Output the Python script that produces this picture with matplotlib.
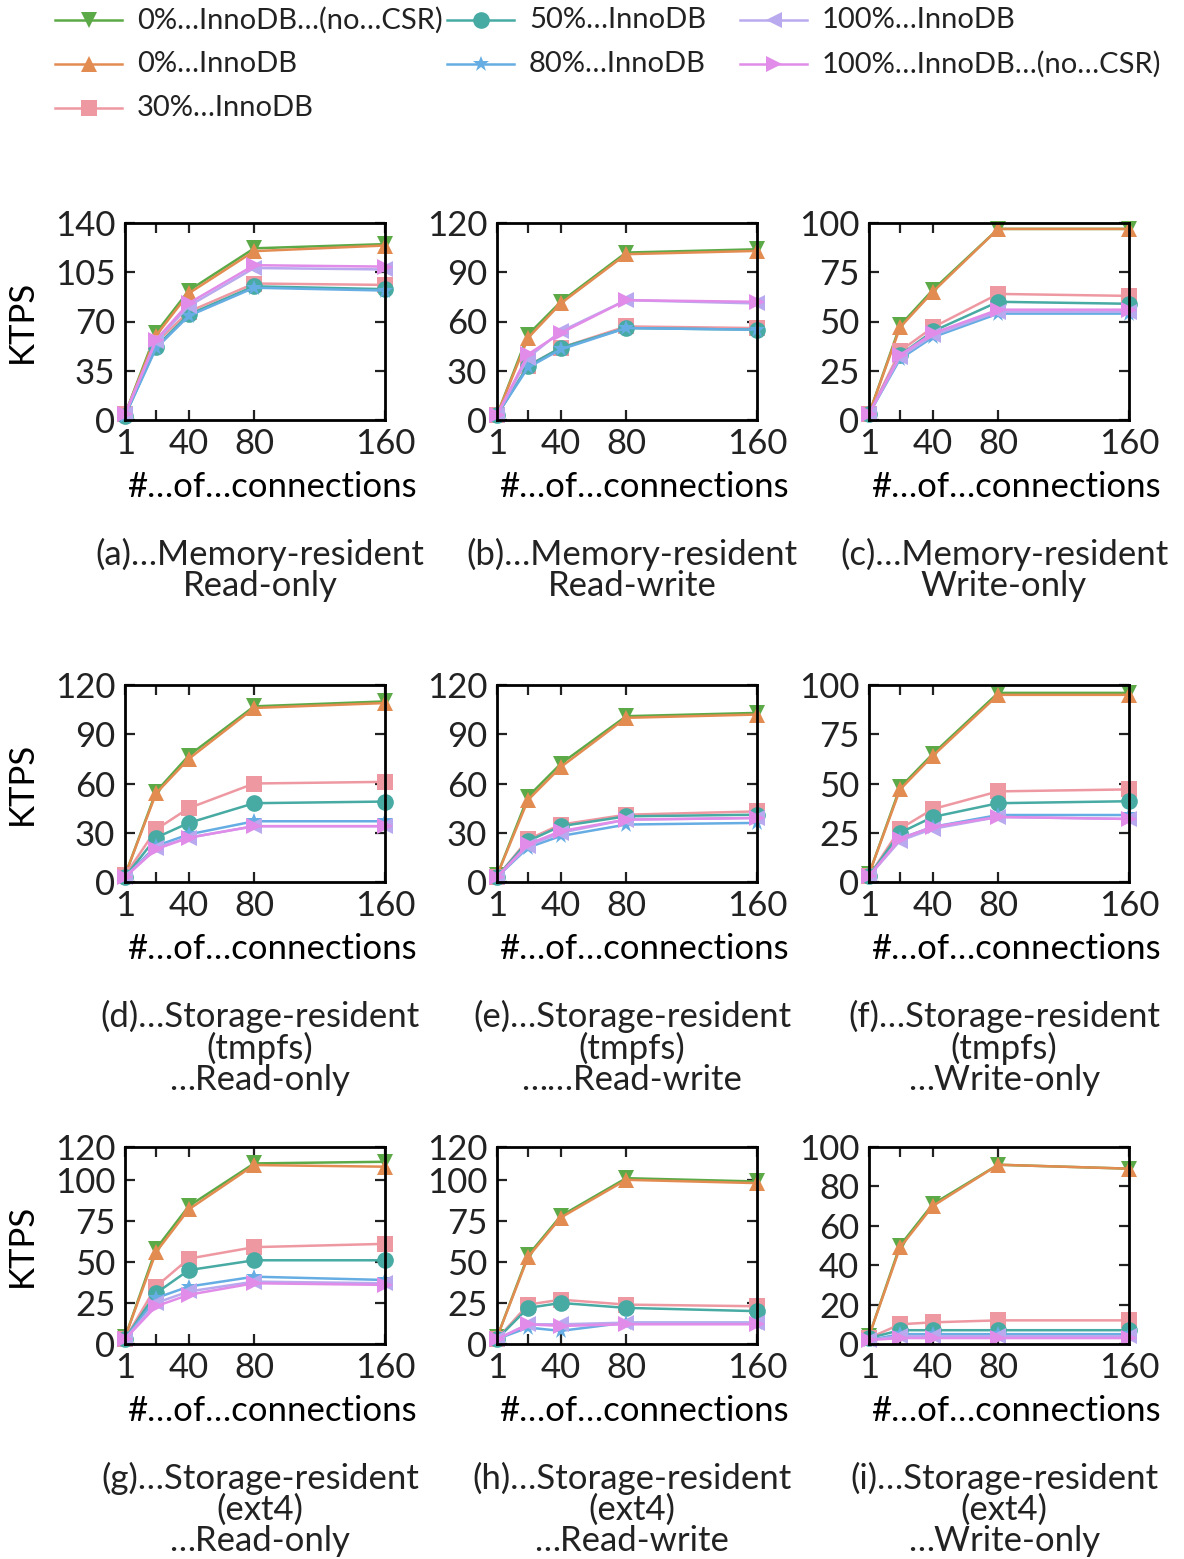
import numpy as np
import matplotlib
matplotlib.use("Agg")
import matplotlib.pyplot as plt
from matplotlib.lines import Line2D

plt.rcParams['font.family'] = ['Lato', 'DejaVu Sans']

# Datos
conexiones = [1, 20, 40, 80, 160]
xtick_labels = ['1', '', '40', '80', '160']

series = ['0%…InnoDB…(no…CSR)', '0%…InnoDB', '30%…InnoDB', '50%…InnoDB',
          '80%…InnoDB', '100%…InnoDB', '100%…InnoDB…(no…CSR)']
colores = ['#5caa47', '#e38c52', '#ee98a2', '#47aaa3', '#66ade3', '#b9a9ee', '#e08ce8']
marcadores = ['v', '^', 's', 'o', '*', '<', '>']

# valores KTPS por panel, en el orden de "series"
panel_a = [[4, 62, 92, 122, 125], [4, 60, 90, 120, 124], [4, 55, 77, 97, 96],
           [3, 52, 75, 95, 93], [3, 51, 74, 94, 92], [4, 56, 81, 108, 107],
           [4, 57, 83, 110, 109]]
panel_b = [[3, 52, 72, 102, 104], [3, 50, 71, 101, 103], [3, 33, 44, 57, 56],
           [3, 33, 44, 56, 55], [3, 32, 43, 56, 55], [3, 38, 54, 73, 71],
           [3, 40, 53, 73, 72]]
panel_c = [[3, 48, 66, 97, 97], [3, 47, 65, 97, 97], [3, 35, 47, 64, 63],
           [3, 33, 45, 60, 59], [3, 31, 42, 54, 54], [3, 32, 43, 55, 55],
           [3, 33, 44, 56, 56]]
panel_d = [[4, 55, 77, 107, 110], [4, 54, 75, 106, 109], [4, 32, 45, 60, 61],
           [3, 27, 36, 48, 49], [3, 22, 29, 37, 37], [3, 21, 27, 34, 34],
           [3, 20, 27, 34, 34]]
panel_e = [[4, 52, 72, 101, 103], [4, 50, 70, 100, 102], [3, 26, 35, 41, 43],
           [3, 25, 34, 40, 41], [3, 21, 28, 35, 36], [3, 22, 30, 38, 39],
           [3, 23, 31, 38, 39]]
panel_f = [[4, 48, 65, 96, 96], [4, 47, 64, 95, 95], [3, 27, 37, 46, 47],
           [3, 25, 33, 40, 41], [3, 22, 28, 34, 34], [3, 21, 27, 33, 32],
           [3, 22, 28, 33, 32]]
panel_g = [[4, 58, 84, 110, 111], [4, 56, 82, 109, 108], [3, 35, 52, 59, 61],
           [3, 31, 45, 51, 51], [3, 28, 35, 41, 39], [3, 25, 32, 38, 37],
           [3, 23, 30, 37, 36]]
panel_h = [[4, 54, 78, 101, 99], [4, 53, 77, 100, 98], [3, 24, 27, 24, 23],
           [3, 22, 25, 22, 20], [3, 10, 8, 13, 13], [3, 12, 12, 13, 13],
           [3, 12, 11, 12, 12]]
panel_i = [[4, 50, 71, 91, 89], [4, 49, 70, 91, 89], [3, 10, 11, 12, 12],
           [3, 7, 7, 7, 7], [2, 5, 5, 5, 5], [2, 4, 4, 4, 4],
           [2, 3, 3, 3, 3]]

paneles = [panel_a, panel_b, panel_c, panel_d, panel_e, panel_f, panel_g, panel_h, panel_i]

yticks = [[0, 35, 70, 105, 140], [0, 30, 60, 90, 120], [0, 25, 50, 75, 100],
          [0, 30, 60, 90, 120], [0, 30, 60, 90, 120], [0, 25, 50, 75, 100],
          [0, 25, 50, 75, 100, 120], [0, 25, 50, 75, 100, 120], [0, 20, 40, 60, 80, 100]]

titulos = ['(a)…Memory-resident\nRead-only',
           '(b)…Memory-resident\nRead-write',
           '(c)…Memory-resident\nWrite-only',
           '(d)…Storage-resident\n(tmpfs)\n…Read-only',
           '(e)…Storage-resident\n(tmpfs)\n……Read-write',
           '(f)…Storage-resident\n(tmpfs)\n…Write-only',
           '(g)…Storage-resident\n(ext4)\n…Read-only',
           '(h)…Storage-resident\n(ext4)\n…Read-write',
           '(i)…Storage-resident\n(ext4)\n…Write-only']

# Figura
W, H = 1184, 1559
fig = plt.figure(figsize=(W / 100, H / 100), dpi=100)

lefts = [125, 497, 869]
tops = [223, 685, 1147]
aw, ah = 260, 197
FS = 25

for k, datos in enumerate(paneles):
    fila, col = divmod(k, 3)
    l, t = lefts[col], tops[fila]
    ax = fig.add_axes([l / W, 1 - (t + ah) / H, aw / W, ah / H])
    for vals, c, m in zip(datos, colores, marcadores):
        ax.plot(conexiones, vals, color=c, marker=m, markersize=12,
                linewidth=1.8, markeredgewidth=0, clip_on=False)
    ax.set_xlim(1, 160)
    ax.set_ylim(yticks[k][0], yticks[k][-1])
    ax.set_xticks(conexiones)
    ax.set_xticklabels(xtick_labels)
    ax.set_yticks(yticks[k])
    ax.tick_params(direction='in', length=7, width=1.6, top=True, right=True,
                   labelsize=FS, pad=7, colors='#222222')
    ax.tick_params(axis='x', pad=6)
    for s in ax.spines.values():
        s.set_linewidth(2)
    ax.set_xlabel('#…of…connections', fontsize=FS)
    ax.xaxis.set_label_coords(0.565, -0.26)
    if col == 0:
        ax.set_ylabel('KTPS', fontsize=FS, labelpad=12)
    fig.text((l + aw / 2 + 5) / W, 1 - (t + ah + 118) / H, titulos[k],
             ha='center', va='top', fontsize=FS, linespacing=0.95,
             multialignment='center', color='#222222')

# Leyenda (colocada a mano como en el original)
col_x = [55, 447, 740]
fila_y = [20, 64, 108]
posiciones = [(0, 0), (0, 1), (0, 2), (1, 0), (1, 1), (2, 0), (2, 1)]
for (cc, ff), nombre, c, m in zip(posiciones, series, colores, marcadores):
    x0 = col_x[cc]
    y0 = 1 - fila_y[ff] / H
    fig.add_artist(Line2D([x0 / W, (x0 + 67) / W], [y0, y0], color=c,
                          linewidth=1.8, transform=fig.transFigure))
    fig.add_artist(Line2D([(x0 + 33.5) / W], [y0], color=c, marker=m,
                          markersize=12, markeredgewidth=0,
                          transform=fig.transFigure))
    fig.text((x0 + 82) / W, y0, nombre, ha='left', va='center',
             fontsize=21, color='#222222')

fig.savefig('out.png', dpi=100)
